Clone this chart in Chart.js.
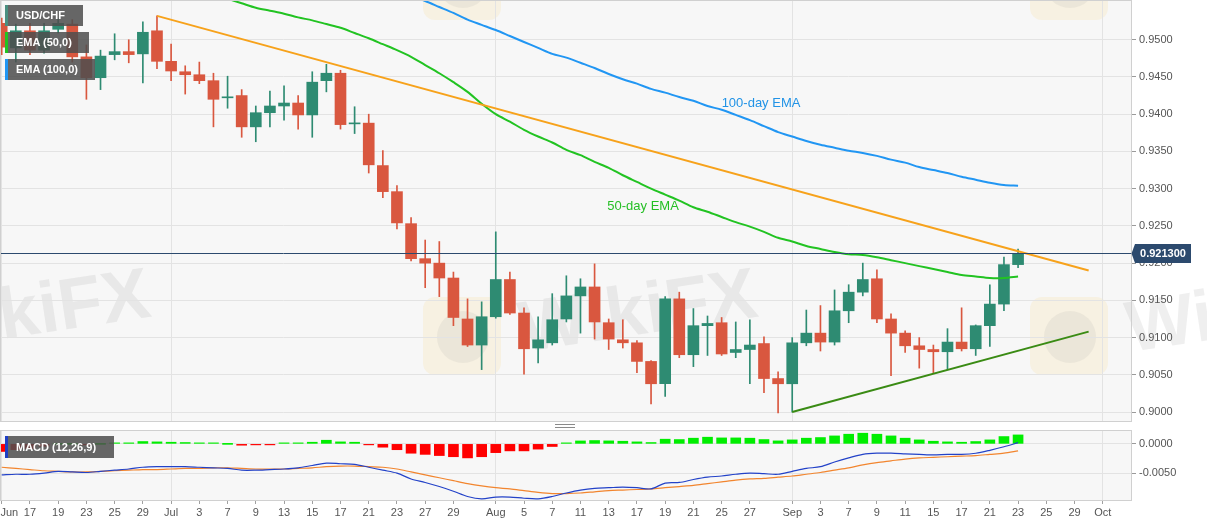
<!DOCTYPE html>
<html lang="en">
<head>
<meta charset="UTF-8">
<title>USD/CHF Daily</title>
<script src="https://cdn.jsdelivr.net/npm/chart.js@4.4.1/dist/chart.umd.min.js"></script>
<style>
    html, body { margin: 0; padding: 0; background: #fff; }
    body { position: relative; width: 1207px; height: 526px; overflow: hidden; font-family: "Liberation Sans", Arial, sans-serif; }
    canvas { position: absolute; left: 0; }
    #priceChart { top: 0; }
    #macdChart { top: 426px; }
    /* legend tags in the corners */
    .tag { position: absolute; left: 5px; height: 21px; line-height: 21px; box-sizing: border-box; padding-left: 8px; border-left: 3px solid; background: rgba(78, 78, 78, 0.86); color: #fff; font-size: 11px; font-weight: bold; white-space: nowrap; z-index: 2; }
    .grip { position: absolute; left: 555px; top: 424px; width: 20px; height: 2px; border-top: 1px solid #8a8a8a; border-bottom: 1px solid #8a8a8a; }
</style>
</head>
<body>
<canvas id="priceChart" width="1207" height="422"></canvas>
<canvas id="macdChart" width="1207" height="100"></canvas>
<div class="tag" style="top:5px;width:78px;border-color:#4a8f80">USD/CHF</div>
<div class="tag" style="top:32px;width:84px;border-color:#22c322">EMA (50,0)</div>
<div class="tag" style="top:59px;width:90px;border-color:#2196f3">EMA (100,0)</div>
<div class="tag" style="top:436px;width:109px;height:22px;line-height:22px;border-color:#1f3fc4">MACD (12,26,9)</div>
<div class="grip"></div>

<script>
// ---- data: one entry per trading day, Jun 15 .. Sep 23 (2020) ----
var openP = [
    0.9522, 0.9489, 0.9512, 0.9486, 0.9514, 0.9521, 0.9477, 0.9449, 0.9480, 0.9484,
    0.9481, 0.9512, 0.9471, 0.9457, 0.9453, 0.9445, 0.9422, 0.9425, 0.9383, 0.9402,
    0.9411, 0.9415, 0.9399, 0.9445, 0.9455, 0.9387, 0.9388, 0.9331, 0.9296, 0.9253,
    0.9206, 0.9200, 0.9180, 0.9125, 0.9090, 0.9128, 0.9178, 0.9133, 0.9086, 0.9093,
    0.9125, 0.9156, 0.9168, 0.9120, 0.9097, 0.9093, 0.9068, 0.9038, 0.9152, 0.9077,
    0.9116, 0.9120, 0.9080, 0.9084, 0.9092, 0.9045, 0.9038, 0.9093, 0.9106, 0.9094,
    0.9136, 0.9161, 0.9179, 0.9125, 0.9106, 0.9089, 0.9084, 0.9081, 0.9094, 0.9085,
    0.9116, 0.9145, 0.9198
];
var highP = [
    0.9529, 0.9521, 0.9522, 0.9522, 0.9528, 0.9527, 0.9493, 0.9486, 0.9508, 0.9500,
    0.9524, 0.9532, 0.9494, 0.9465, 0.9470, 0.9455, 0.9451, 0.9433, 0.9411, 0.9431,
    0.9438, 0.9425, 0.9457, 0.9467, 0.9459, 0.9410, 0.9400, 0.9351, 0.9304, 0.9261,
    0.9231, 0.9229, 0.9188, 0.9152, 0.9148, 0.9242, 0.9188, 0.9140, 0.9128, 0.9159,
    0.9183, 0.9179, 0.9199, 0.9125, 0.9124, 0.9096, 0.9069, 0.9155, 0.9161, 0.9139,
    0.9129, 0.9127, 0.9121, 0.9124, 0.9101, 0.9054, 0.9100, 0.9137, 0.9143, 0.9164,
    0.9171, 0.9200, 0.9191, 0.9132, 0.9109, 0.9100, 0.9090, 0.9112, 0.9140, 0.9117,
    0.9171, 0.9208, 0.9219
];
var lowP = [
    0.9480, 0.9470, 0.9480, 0.9482, 0.9509, 0.9470, 0.9420, 0.9433, 0.9473, 0.9469,
    0.9442, 0.9461, 0.9445, 0.9427, 0.9441, 0.9383, 0.9408, 0.9369, 0.9363, 0.9383,
    0.9392, 0.9380, 0.9369, 0.9430, 0.9380, 0.9374, 0.9321, 0.9288, 0.9246, 0.9203,
    0.9167, 0.9155, 0.9116, 0.9088, 0.9057, 0.9126, 0.9131, 0.9051, 0.9066, 0.9090,
    0.9121, 0.9106, 0.9098, 0.9084, 0.9086, 0.9053, 0.9011, 0.9021, 0.9073, 0.9061,
    0.9076, 0.9076, 0.9073, 0.9038, 0.9026, 0.8999, 0.9000, 0.9089, 0.9082, 0.9090,
    0.9120, 0.9156, 0.9120, 0.9049, 0.9080, 0.9059, 0.9053, 0.9057, 0.9082, 0.9076,
    0.9088, 0.9136, 0.9194
];
var closeP = [
    0.9490, 0.9512, 0.9486, 0.9512, 0.9522, 0.9477, 0.9449, 0.9478, 0.9484, 0.9480,
    0.9510, 0.9471, 0.9458, 0.9453, 0.9445, 0.9420, 0.9423, 0.9383, 0.9402, 0.9411,
    0.9415, 0.9399, 0.9443, 0.9455, 0.9386, 0.9388, 0.9332, 0.9296, 0.9254, 0.9206,
    0.9200, 0.9180, 0.9127, 0.9090, 0.9128, 0.9178, 0.9133, 0.9085, 0.9097, 0.9124,
    0.9156, 0.9168, 0.9121, 0.9098, 0.9093, 0.9068, 0.9038, 0.9152, 0.9077, 0.9116,
    0.9119, 0.9078, 0.9084, 0.9090, 0.9045, 0.9038, 0.9093, 0.9106, 0.9094, 0.9136,
    0.9161, 0.9178, 0.9125, 0.9106, 0.9089, 0.9084, 0.9081, 0.9094, 0.9085, 0.9116,
    0.9145, 0.9198, 0.9213
];
var n = null;
var ema50 = [
    n, n, n, n, n, n, n, n, n, n, n, n, n, n, n,
    0.9561, 0.9555, 0.9549, 0.9543, 0.9539, 0.9535, 0.9530, 0.9526, 0.9521, 0.9516,
    0.9509, 0.9502, 0.9494, 0.9486, 0.9477, 0.9466, 0.9455, 0.9443, 0.9430, 0.9414,
    0.9400, 0.9390, 0.9379, 0.9370, 0.9362, 0.9352, 0.9345, 0.9336, 0.9328, 0.9318,
    0.9309, 0.9300, 0.9292, 0.9284, 0.9275, 0.9269, 0.9262, 0.9255, 0.9249, 0.9242,
    0.9234, 0.9229, 0.9223, 0.9219, 0.9215, 0.9212, 0.9211, 0.9208, 0.9204, 0.9200,
    0.9196, 0.9192, 0.9188, 0.9184, 0.9182, 0.9180, 0.9180, 0.9182
];
var ema100 = [
    n, n, n, n, n, n, n, n, n, n, n, n, n, n, n, n, n, n, n, n, n, n, n, n, n, n, n, n, n,
    0.9559, 0.9552, 0.9544, 0.9536, 0.9527, 0.9520, 0.9513, 0.9505, 0.9497, 0.9489,
    0.9481, 0.9476, 0.9469, 0.9462, 0.9454, 0.9447, 0.9441, 0.9434, 0.9429, 0.9423,
    0.9418, 0.9411, 0.9406, 0.9399, 0.9392, 0.9384, 0.9376, 0.9370, 0.9364, 0.9359,
    0.9355, 0.9351, 0.9348, 0.9344, 0.9339, 0.9335, 0.9329, 0.9325, 0.9321, 0.9316,
    0.9312, 0.9308, 0.9305, 0.9304
];
var macdLine = [
    -0.0053, -0.0052, -0.0052, -0.0050, -0.0047, -0.0048, -0.0049, -0.0047, -0.0045, -0.0043,
    -0.0040, -0.0039, -0.0039, -0.0039, -0.0040, -0.0041, -0.0042, -0.0045, -0.0045, -0.0044,
    -0.0043, -0.0041, -0.0037, -0.0033, -0.0034, -0.0035, -0.0040, -0.0045, -0.0050, -0.0060,
    -0.0066, -0.0073, -0.0081, -0.0090, -0.0094, -0.0091, -0.0091, -0.0093, -0.0094, -0.0090,
    -0.0084, -0.0079, -0.0076, -0.0075, -0.0074, -0.0075, -0.0077, -0.0067, -0.0066, -0.0061,
    -0.0057, -0.0055, -0.0052, -0.0050, -0.0051, -0.0052, -0.0047, -0.0042, -0.0039, -0.0031,
    -0.0024, -0.0018, -0.0016, -0.0016, -0.0017, -0.0018, -0.0019, -0.0018, -0.0018, -0.0016,
    -0.0011, -0.0005, 0.0002
];
var signalLine = [
    -0.0040, -0.0042, -0.0044, -0.0046, -0.0047, -0.0048, -0.0048, -0.0047, -0.0046, -0.0045,
    -0.0044, -0.0044, -0.0043, -0.0042, -0.0042, -0.0041, -0.0041, -0.0042, -0.0043, -0.0043,
    -0.0043, -0.0042, -0.0041, -0.0039, -0.0038, -0.0038, -0.0039, -0.0040, -0.0043, -0.0048,
    -0.0053, -0.0058, -0.0063, -0.0068, -0.0072, -0.0075, -0.0077, -0.0080, -0.0083, -0.0085,
    -0.0085, -0.0084, -0.0082, -0.0080, -0.0079, -0.0078, -0.0077, -0.0075, -0.0073, -0.0071,
    -0.0068, -0.0065, -0.0062, -0.0060, -0.0059, -0.0057, -0.0055, -0.0052, -0.0049, -0.0045,
    -0.0041, -0.0036, -0.0032, -0.0029, -0.0026, -0.0024, -0.0023, -0.0022, -0.0021, -0.0020,
    -0.0018, -0.0016, -0.0012
];
var histo = [
    -0.0013, -0.0010, -0.0008, -0.0004, 0.0000, 0.0000, -0.0001, 0.0000, 0.0001, 0.0001,
    0.0004, 0.00034, 0.00028, 0.00023, 0.00017, 0.00005, 0.0000, -0.00023, -0.00017, -0.0001,
    0.00003, 0.00003, 0.00028, 0.00062, 0.00034, 0.00028, -0.0001, -0.00057, -0.0010, -0.0016,
    -0.0018, -0.0020, -0.0022, -0.0024, -0.0022, -0.0015, -0.0012, -0.0012, -0.0009, -0.00045,
    0.00005, 0.0005, 0.00057, 0.00051, 0.00045, 0.00034, 0.00023, 0.0008, 0.00074, 0.00097,
    0.00114, 0.00102, 0.00102, 0.00097, 0.00074, 0.00051, 0.00068, 0.00097, 0.00108, 0.00136,
    0.00165, 0.00182, 0.00165, 0.00136, 0.00097, 0.00068, 0.00045, 0.00034, 0.00028, 0.0004,
    0.00068, 0.00125, 0.00153
];
// trend lines: [day index], [price]
var resistX = [11, 77], resistY = [0.9532, 0.9190];
var supportX = [56, 77], supportY = [0.9000, 0.9108];
var currentPrice = 0.9213;

// axis ticks (day index -> label)
var tickPos = [0, 2, 4, 6, 8, 10, 12, 14, 16, 18, 20, 22, 24, 26, 28, 30, 32,
               35, 37, 39, 41, 43, 45, 47, 49, 51, 53,
               56, 58, 60, 62, 64, 66, 68, 70, 72, 74, 76, 78];
var tickText = ['Jun', '17', '19', '23', '25', '29', 'Jul', '3', '7', '9', '13', '15', '17', '21', '23', '27', '29',
                'Aug', '5', '7', '11', '13', '17', '19', '21', '25', '27',
                'Sep', '3', '7', '9', '11', '15', '17', '21', '23', '25', '29', 'Oct'];
var priceTicks = [0.9000, 0.9050, 0.9100, 0.9150, 0.9200, 0.9250, 0.9300, 0.9350, 0.9400, 0.9450, 0.9500];
var macdTicks = [0, -0.0050];

// text notes placed at (day index, price)
var emaNotes = [
    { text: '100-day EMA', x: 51, y: 0.9414, color: '#2193e6' },
    { text: '50-day EMA', x: 42.9, y: 0.9276, color: '#25bf25' }
];

// ---- look ----
var FONT = '"Liberation Sans", Arial, sans-serif';
var UP = '#2e8b72', DOWN = '#d9573f';
var GRID = '#e3e3e3', FRAME = '#d0d0d0', PANEL = '#f7f7f7', TEXT = '#555';
var X_MIN = -0.05, X_MAX = 80.0;

Chart.defaults.font.family = FONT;
Chart.defaults.font.size = 11;
Chart.defaults.color = TEXT;

var days = openP.map(function (_, i) { return i; });
var candleColor = days.map(function (i) { return closeP[i] >= openP[i] ? UP : DOWN; });
var monthPos = tickPos.filter(function (p, i) { return isNaN(Number(tickText[i])); });

function xScale(showLabels) {
    return {
        type: 'linear', min: X_MIN, max: X_MAX, offset: false,
        afterBuildTicks: function (s) { s.ticks = tickPos.map(function (v) { return { value: v }; }); },
        ticks: { display: showLabels, autoSkip: false, maxRotation: 0, padding: 2,
                 // the first label sits on the left edge, nudge it inside
                 callback: function (v, i) { return i === 0 ? '     ' + tickText[i] : tickText[i]; } },
        grid: {
            offset: false, drawTicks: showLabels, tickLength: 4, tickColor: '#a0a0a0',
            color: function (c) { return c.tick && monthPos.indexOf(c.tick.value) >= 0 ? GRID : 'rgba(0,0,0,0)'; }
        },
        border: { display: false },
        afterFit: function (s) { s.height = showLabels ? 26 : 0; s.paddingLeft = 0; s.paddingRight = 0; }
    };
}

function yScale(min, max, ticks) {
    return {
        position: 'right', min: min, max: max,
        afterBuildTicks: function (s) { s.ticks = ticks.map(function (v) { return { value: v }; }); },
        ticks: { padding: 3, color: TEXT, callback: function (v) { return Number(v).toFixed(4); } },
        grid: { color: GRID, tickColor: '#9a9a9a', tickLength: 5 },
        border: { display: false },
        afterFit: function (s) { s.width = 76; s.paddingTop = 0; s.paddingBottom = 0; }
    };
}

// panel background + frame
var framePlugin = {
    id: 'frame',
    beforeDraw: function (chart) {
        var ctx = chart.ctx, a = chart.chartArea;
        ctx.save();
        ctx.fillStyle = PANEL;
        ctx.fillRect(a.left, a.top, a.width, a.height);
        ctx.restore();
    },
    afterDraw: function (chart) {
        var ctx = chart.ctx, a = chart.chartArea;
        ctx.save();
        ctx.strokeStyle = FRAME;
        ctx.lineWidth = 1;
        ctx.strokeRect(Math.floor(a.left) - 0.5, Math.floor(a.top) - 0.5, Math.round(a.width) + 1, Math.round(a.height) + 1);
        ctx.restore();
    }
};

// faint site watermark
var watermarkPlugin = {
    id: 'watermark',
    beforeDraw: function (chart) {
        var ctx = chart.ctx;
        ctx.save();
        [-184, 423, 1030].forEach(function (x0) {
            [297, -58].forEach(function (y0) {
                ctx.fillStyle = 'rgba(246, 206, 96, 0.14)';
                ctx.beginPath();
                ctx.roundRect(x0, y0, 78, 78, 12);
                ctx.fill();
                ctx.fillStyle = 'rgba(140, 140, 140, 0.10)';
                ctx.beginPath();
                ctx.arc(x0 + 40, y0 + 40, 26, 0, Math.PI * 2);
                ctx.fill();
            });
            ctx.save();
            ctx.translate(x0 + 100, 352);
            ctx.rotate(-0.15);
            ctx.font = 'bold 72px ' + FONT;
            ctx.fillStyle = 'rgba(150, 150, 150, 0.15)';
            ctx.fillText('WikiFX', 0, 0);
            ctx.restore();
        });
        ctx.restore();
    }
};

// last price line, tag and EMA notes
var overlayPlugin = {
    id: 'overlay',
    afterDatasetsDraw: function (chart) {
        var ctx = chart.ctx, a = chart.chartArea, x = chart.scales.x, y = chart.scales.y;
        var py = Math.round(y.getPixelForValue(currentPrice)) + 0.5;
        ctx.save();
        ctx.strokeStyle = '#2c4a6e';
        ctx.lineWidth = 1;
        ctx.beginPath();
        ctx.moveTo(a.left, py);
        ctx.lineTo(a.right, py);
        ctx.stroke();
        ctx.font = '13px ' + FONT;
        ctx.textBaseline = 'middle';
        emaNotes.forEach(function (nt) {
            ctx.fillStyle = nt.color;
            ctx.fillText(nt.text, x.getPixelForValue(nt.x), y.getPixelForValue(nt.y));
        });
        ctx.restore();
    },
    afterDraw: function (chart) {
        var ctx = chart.ctx, a = chart.chartArea, y = chart.scales.y;
        var py = Math.round(y.getPixelForValue(currentPrice)) + 0.5;
        var left = a.right + 4, w = 56, h = 19;
        ctx.save();
        ctx.fillStyle = '#2c4a6e';
        ctx.beginPath();
        ctx.moveTo(a.right + 0.5, py);
        ctx.lineTo(left, py - h / 2);
        ctx.lineTo(left + w, py - h / 2);
        ctx.lineTo(left + w, py + h / 2);
        ctx.lineTo(left, py + h / 2);
        ctx.closePath();
        ctx.fill();
        ctx.fillStyle = '#fff';
        ctx.font = 'bold 11px ' + FONT;
        ctx.textAlign = 'center';
        ctx.textBaseline = 'middle';
        ctx.fillText(currentPrice.toFixed(6), left + w / 2, py + 0.5);
        ctx.restore();
    }
};

function pts(xs, ys) {
    return xs.map(function (v, i) { return { x: v, y: ys[i] }; });
}

// Price panel
new Chart(document.getElementById('priceChart'), {
    type: 'bar',
    data: {
        datasets: [
            { type: 'bar', data: days.map(function (i) { return { x: i, y: [lowP[i], highP[i]] }; }),
              backgroundColor: candleColor, barThickness: 1, grouped: false, order: 6 },
            { type: 'bar', data: days.map(function (i) { return { x: i, y: [openP[i], closeP[i]] }; }),
              backgroundColor: candleColor, barThickness: 11, grouped: false, minBarLength: 1, order: 5 },
            { type: 'line', data: pts(days, ema50), borderColor: '#22c322', borderWidth: 2,
              pointRadius: 0, tension: 0.3, order: 3 },
            { type: 'line', data: pts(days, ema100), borderColor: '#2196f3', borderWidth: 2,
              pointRadius: 0, tension: 0.3, order: 3 },
            { type: 'line', data: pts(resistX, resistY), borderColor: '#f7a21b', borderWidth: 2,
              pointRadius: 0, order: 2 },
            { type: 'line', data: pts(supportX, supportY), borderColor: '#3a8b14', borderWidth: 2,
              pointRadius: 0, order: 2 }
        ]
    },
    options: {
        responsive: false, animation: false, events: [], devicePixelRatio: 1,
        layout: { padding: { left: 1, top: 1, right: 0, bottom: 1 } },
        plugins: { legend: { display: false }, tooltip: { enabled: false } },
        scales: {
            x: xScale(false),
            y: yScale(0.8988, 0.9552, priceTicks)
        }
    },
    plugins: [framePlugin, watermarkPlugin, overlayPlugin]
});

// MACD panel
new Chart(document.getElementById('macdChart'), {
    type: 'bar',
    data: {
        datasets: [
            { type: 'bar', data: pts(days, histo),
              backgroundColor: histo.map(function (v) { return v >= 0 ? '#00ee00' : '#ff0000'; }),
              barThickness: 10, grouped: false, minBarLength: 1, order: 5 },
            { type: 'line', data: pts(days, macdLine), borderColor: '#2342c8', borderWidth: 1.2,
              pointRadius: 0, tension: 0.3, order: 2 },
            { type: 'line', data: pts(days, signalLine), borderColor: '#f2852e', borderWidth: 1.2,
              pointRadius: 0, tension: 0.3, order: 2 }
        ]
    },
    options: {
        responsive: false, animation: false, events: [], devicePixelRatio: 1,
        layout: { padding: { left: 1, top: 5, right: 0, bottom: 0 } },
        plugins: { legend: { display: false }, tooltip: { enabled: false } },
        scales: {
            x: xScale(true),
            y: yScale(-0.0096, 0.0022, macdTicks)
        }
    },
    plugins: [framePlugin]
});
</script>
</body>
</html>
